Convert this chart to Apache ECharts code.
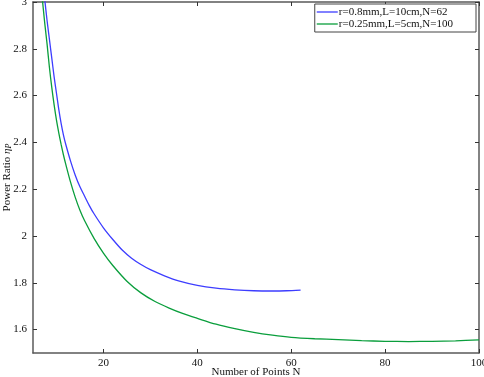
<!DOCTYPE html>
<html>
<head>
<meta charset="utf-8">
<script src="https://cdn.jsdelivr.net/npm/echarts@6/dist/echarts.min.js"></script>
<style>html,body{margin:0;padding:0;background:#fff;}#c{width:484px;height:377px;}</style>
</head>
<body>
<div id="c"></div>
<script>
const seriesNames = ['r=0.8mm,L=10cm,N=62', 'r=0.25mm,L=5cm,N=100'];
const blueN = [7.4, 8, 8.5, 9, 9.5, 10, 10.5, 11, 11.5, 12, 13, 14, 15, 16, 17, 18, 20, 22, 24, 26, 28, 30, 33, 36, 40, 44, 48, 52, 56, 59, 62];
const blueV = [3.03, 2.92, 2.84, 2.76, 2.68, 2.61, 2.54, 2.48, 2.43, 2.39, 2.32, 2.26, 2.21, 2.17, 2.13, 2.095, 2.035, 1.985, 1.94, 1.905, 1.878, 1.856, 1.83, 1.808, 1.789, 1.777, 1.77, 1.766, 1.765, 1.766, 1.769];
const greenN = [6.9, 7.5, 8, 8.5, 9, 9.5, 10, 10.5, 11, 11.5, 12, 13, 14, 15, 16, 18, 20, 22, 25, 28, 31, 34, 37, 40, 44, 48, 52, 56, 60, 65, 70, 75, 80, 85, 90, 95, 100];
const greenV = [3.03, 2.91, 2.82, 2.72, 2.635, 2.56, 2.495, 2.44, 2.39, 2.345, 2.305, 2.23, 2.165, 2.11, 2.065, 1.99, 1.927, 1.874, 1.807, 1.757, 1.72, 1.692, 1.668, 1.648, 1.623, 1.604, 1.588, 1.576, 1.567, 1.561, 1.557, 1.553, 1.550, 1.549, 1.550, 1.552, 1.556];
const xTicks = [20, 40, 60, 80, 100];
const yTicks = [1.6, 1.8, 2, 2.2, 2.4, 2.6, 2.8, 3];

const FONT = 'Liberation Serif';
const frame = '#5a5a5a';
function zip(a, b) { return a.map((v, i) => [v, b[i]]); }

function xAx(pos, show) {
  return {
    type: 'value', position: pos, min: 5, max: 100,
    splitLine: { show: false },
    axisLine: { show: true, onZero: false, lineStyle: { color: frame, width: 1.5 } },
    axisTick: { show: true, inside: true, length: 4, customValues: xTicks, lineStyle: { color: '#333', width: 1 } },
    axisLabel: { show: show, customValues: xTicks, fontFamily: FONT, fontSize: 11, color: '#111', margin: 5 },
    name: show ? 'Number of Points N' : '', nameLocation: 'middle', nameGap: 14, nameMoveOverlap: false,
    nameTextStyle: { fontFamily: FONT, fontSize: 11, color: '#111' }
  };
}
function yAx(pos, show) {
  return {
    type: 'value', position: pos, min: 1.5, max: 3,
    splitLine: { show: false },
    axisLine: { show: true, onZero: false, lineStyle: { color: frame, width: 1.5 } },
    axisTick: { show: true, inside: true, length: 4, customValues: yTicks, lineStyle: { color: '#333', width: 1 } },
    axisLabel: { show: show, customValues: yTicks, fontFamily: FONT, fontSize: 11, color: '#111', margin: 6 },
    name: show ? 'Power Ratio {i|η}{s|P}' : '', nameLocation: 'middle', nameGap: 20, nameMoveOverlap: false,
    nameTextStyle: { fontFamily: FONT, fontSize: 11, color: '#111',
      rich: { i: { fontFamily: FONT, fontSize: 11, fontStyle: 'italic', color: '#111' },
              s: { fontFamily: FONT, fontSize: 8, fontStyle: 'italic', color: '#111', verticalAlign: 'bottom', padding: [4, 0, 0, 0] } } }
  };
}

const chart = echarts.init(document.getElementById('c'), null, { renderer: 'canvas' });
chart.setOption({
  animation: false,
  backgroundColor: '#fff',
  grid: { left: 33, right: 5, top: 2, bottom: 24, containLabel: false, outerBoundsMode: 'none' },
  xAxis: [xAx('bottom', true), xAx('top', false)],
  yAxis: [yAx('left', true), yAx('right', false)],
  legend: {
    orient: 'vertical', right: 8, top: 4,
    icon: 'rect', itemWidth: 21, itemHeight: 1.3, itemGap: 0,
    padding: [2, 23, 2, 2],
    borderColor: '#444', borderWidth: 1, backgroundColor: '#fff',
    textStyle: { fontFamily: FONT, fontSize: 11, lineHeight: 12, color: '#111', padding: [0, 0, 0, -4] },
    data: seriesNames
  },
  series: [
    { name: seriesNames[0], type: 'line', data: zip(blueN, blueV), showSymbol: false, symbol: 'none',
      smooth: 0.3, clip: true, lineStyle: { color: '#3d3dff', width: 1.3 }, itemStyle: { color: '#3d3dff' } },
    { name: seriesNames[1], type: 'line', data: zip(greenN, greenV), showSymbol: false, symbol: 'none',
      smooth: 0.3, clip: true, lineStyle: { color: '#0a9e3c', width: 1.3 }, itemStyle: { color: '#0a9e3c' } }
  ]
});
</script>
</body>
</html>
